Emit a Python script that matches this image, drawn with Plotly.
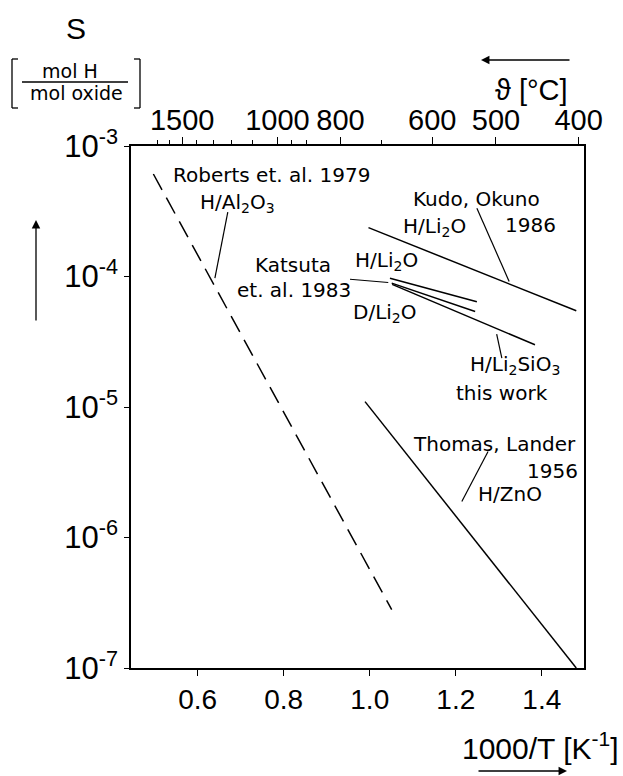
import plotly.graph_objects as go

# End points of each solubility line: x = 1000/T [1/K], S [mol H / mol oxide]
roberts_x = [0.497, 1.051]          # H/Al2O3, Roberts et al. 1979 (dashed)
roberts_s = [6.1e-4, 2.8e-7]

thomas_x = [0.989, 1.480]           # H/ZnO, Thomas & Lander 1956
thomas_s = [1.1e-5, 1.0e-7]

kudo_x = [0.997, 1.480]             # H/Li2O, Kudo & Okuno 1986
kudo_s = [2.37e-4, 5.46e-5]

katsuta_h_x = [1.047, 1.249]        # H/Li2O, Katsuta et al. 1983
katsuta_h_s = [9.7e-5, 6.4e-5]

katsuta_d_x = [1.051, 1.245]        # D/Li2O, Katsuta et al. 1983
katsuta_d_s = [8.9e-5, 5.4e-5]

this_work_x = [1.052, 1.384]        # H/Li2SiO3, this work
this_work_s = [8.7e-5, 3.0e-5]

# Axis ticks
x_ticks = [0.6, 0.8, 1.0, 1.2, 1.4]
x_tick_text = ["0.6", "0.8", "1.0", "1.2", "1.4"]
y_ticks = [1e-7, 1e-6, 1e-5, 1e-4, 1e-3]
y_tick_text = ["10<sup>-7</sup>", "10<sup>-6</sup>", "10<sup>-5</sup>",
               "10<sup>-4</sup>", "10<sup>-3</sup>"]
temp_major = [1500, 1000, 800, 600, 500, 400]            # labelled, °C
temp_minor = [1700, 1600, 1400, 1300, 1200, 1100, 950, 900, 700]

X_RANGE = [0.445, 1.498]
W, H = 623, 776
ML, MR, MT, MB = 131, 39, 146, 108

TICK_FAMILY = "Liberation Sans, Arial, sans-serif"
TEXT_FONT = dict(family="DejaVu Sans, sans-serif", size=20, color="black")


def inv_t(temps_c):
    return [1000.0 / (t + 273.15) for t in temps_c]


def px(x, y):
    """Figure pixel position -> paper coordinates."""
    return (x - ML) / (W - ML - MR), (H - MB - y) / (H - MT - MB)


fig = go.Figure()

line_style = dict(color="black", width=1.5)
fig.add_trace(go.Scatter(x=roberts_x, y=roberts_s, mode="lines",
                         line=dict(color="black", width=1.5, dash="18px,9px")))
for xs, ss in [(thomas_x, thomas_s), (kudo_x, kudo_s),
               (katsuta_h_x, katsuta_h_s), (katsuta_d_x, katsuta_d_s),
               (this_work_x, this_work_s)]:
    fig.add_trace(go.Scatter(x=xs, y=ss, mode="lines", line=line_style))

# Pointer lines from the labels to their curves (x, log10 S)
leaders = [
    ([0.670, 0.640], [-3.507, -4.013]),
    ([1.249, 1.324], [-3.477, -4.038]),
    ([0.954, 1.043], [-4.021, -4.046]),
    ([1.295, 1.307], [-4.442, -4.626]),
    ([1.275, 1.214], [-5.341, -5.724]),
]
for lx, ly in leaders:
    fig.add_trace(go.Scatter(x=lx, y=[10 ** v for v in ly], mode="lines",
                             line=dict(color="black", width=1.2)))

# empty trace so the temperature axis is instantiated
fig.add_trace(go.Scatter(x=[], y=[], xaxis="x2", yaxis="y"))

# Curve labels (x in 1000/T, y in log10 S)
labels = [
    ("Roberts et. al. 1979", 0.772, -3.221),
    ("H/Al<sub>2</sub>O<sub>3</sub>", 0.693, -3.44),
    ("Kudo, Okuno", 1.247, -3.406),
    ("H/Li<sub>2</sub>O", 1.150, -3.62),
    ("1986", 1.373, -3.605),
    ("Katsuta", 0.822, -3.912),
    ("et. al. 1983", 0.824, -4.105),
    ("H/Li<sub>2</sub>O", 1.038, -3.885),
    ("D/Li<sub>2</sub>O", 1.036, -4.283),
    ("H/Li<sub>2</sub>SiO<sub>3</sub>", 1.338, -4.68),
    ("this work", 1.307, -4.889),
    ("Thomas, Lander", 1.289, -5.287),
    ("1956", 1.425, -5.494),
    ("H/ZnO", 1.326, -5.67),
]
for text, lx, ly in labels:
    fig.add_annotation(text=text, x=lx, y=ly, xref="x", yref="y",
                       showarrow=False, font=TEXT_FONT,
                       xanchor="center", yanchor="middle")

# Ordinate title: S [mol H / mol oxide]
sx, sy = px(76, 28)
fig.add_annotation(text="S", x=sx, y=sy, xref="paper", yref="paper",
                   showarrow=False,
                   font=dict(family=TICK_FAMILY, size=30, color="black"),
                   xanchor="center", yanchor="middle")
for text, cx, cy in [("mol H", 70, 71), ("mol oxide", 76, 93)]:
    ax_, ay_ = px(cx, cy)
    fig.add_annotation(text=text, x=ax_, y=ay_, xref="paper", yref="paper",
                       showarrow=False, font=dict(TEXT_FONT, size=19),
                       xanchor="center", yanchor="middle")

bracket_shapes = [
    ((22, 82), (128, 82)),     # fraction bar
    ((12, 59), (12, 108)),     # left bracket
    ((12, 59), (18, 59)),
    ((12, 108), (18, 108)),
    ((140, 59), (140, 108)),   # right bracket
    ((134, 59), (140, 59)),
    ((134, 108), (140, 108)),
]
for (x0, y0), (x1, y1) in bracket_shapes:
    p0, p1 = px(x0, y0), px(x1, y1)
    fig.add_shape(type="line", xref="paper", yref="paper",
                  x0=p0[0], y0=p0[1], x1=p1[0], y1=p1[1],
                  line=dict(color="black", width=1.3))

# Direction arrows
for tip, dx, dy in [((36, 220), 0, 102), ((481, 60), 90, 0), ((567, 771), -90, 0)]:
    tx, ty = px(*tip)
    fig.add_annotation(text="", x=tx, y=ty, xref="paper", yref="paper",
                       ax=dx, ay=dy, axref="pixel", ayref="pixel",
                       showarrow=True, arrowhead=2, arrowsize=1.3,
                       arrowwidth=1.3, arrowcolor="black")

# Abscissa titles
tx, ty = px(531, 90)
fig.add_annotation(text="ϑ [°C]", x=tx, y=ty, xref="paper", yref="paper",
                   showarrow=False,
                   font=dict(family=TICK_FAMILY, size=29, color="black"),
                   xanchor="center", yanchor="middle")
tx, ty = px(540, 746)
fig.add_annotation(text="1000/T [K<sup>-1</sup>]", x=tx, y=ty,
                   xref="paper", yref="paper", showarrow=False,
                   font=dict(family=TICK_FAMILY, size=30, color="black"),
                   xanchor="center", yanchor="middle")

fig.update_layout(
    width=W, height=H,
    margin=dict(l=ML, r=MR, t=MT, b=MB),
    paper_bgcolor="white", plot_bgcolor="white",
    showlegend=False,
    xaxis=dict(range=X_RANGE, tickvals=x_ticks, ticktext=x_tick_text,
               tickangle=0,
               showgrid=False, zeroline=False, showline=True, mirror=True,
               linecolor="black", linewidth=1.5,
               ticks="outside", ticklen=6, tickwidth=1.3, tickcolor="black",
               tickfont=dict(family=TICK_FAMILY, size=28, color="black")),
    xaxis2=dict(range=X_RANGE, overlaying="x", side="top", anchor="y",
                tickvals=inv_t(temp_major),
                ticktext=[str(t) for t in temp_major],
                tickangle=0, ticklabelstandoff=-5,
                showgrid=False, zeroline=False, showline=False,
                ticks="outside", ticklen=8, tickwidth=1.3, tickcolor="black",
                tickfont=dict(family=TICK_FAMILY, size=29, color="black"),
                minor=dict(tickmode="array", tickvals=inv_t(temp_minor),
                           ticks="outside", ticklen=5, tickwidth=1.2,
                           tickcolor="black", showgrid=False)),
    yaxis=dict(type="log", range=[-7, -3], tickvals=y_ticks,
               ticktext=y_tick_text, tickangle=0,
               showgrid=False, zeroline=False, showline=True, mirror=True,
               linecolor="black", linewidth=1.5,
               ticks="outside", ticklen=5, tickwidth=1.3, tickcolor="black",
               tickfont=dict(family=TICK_FAMILY, size=31, color="black")),
)

fig.write_html("out.html")
